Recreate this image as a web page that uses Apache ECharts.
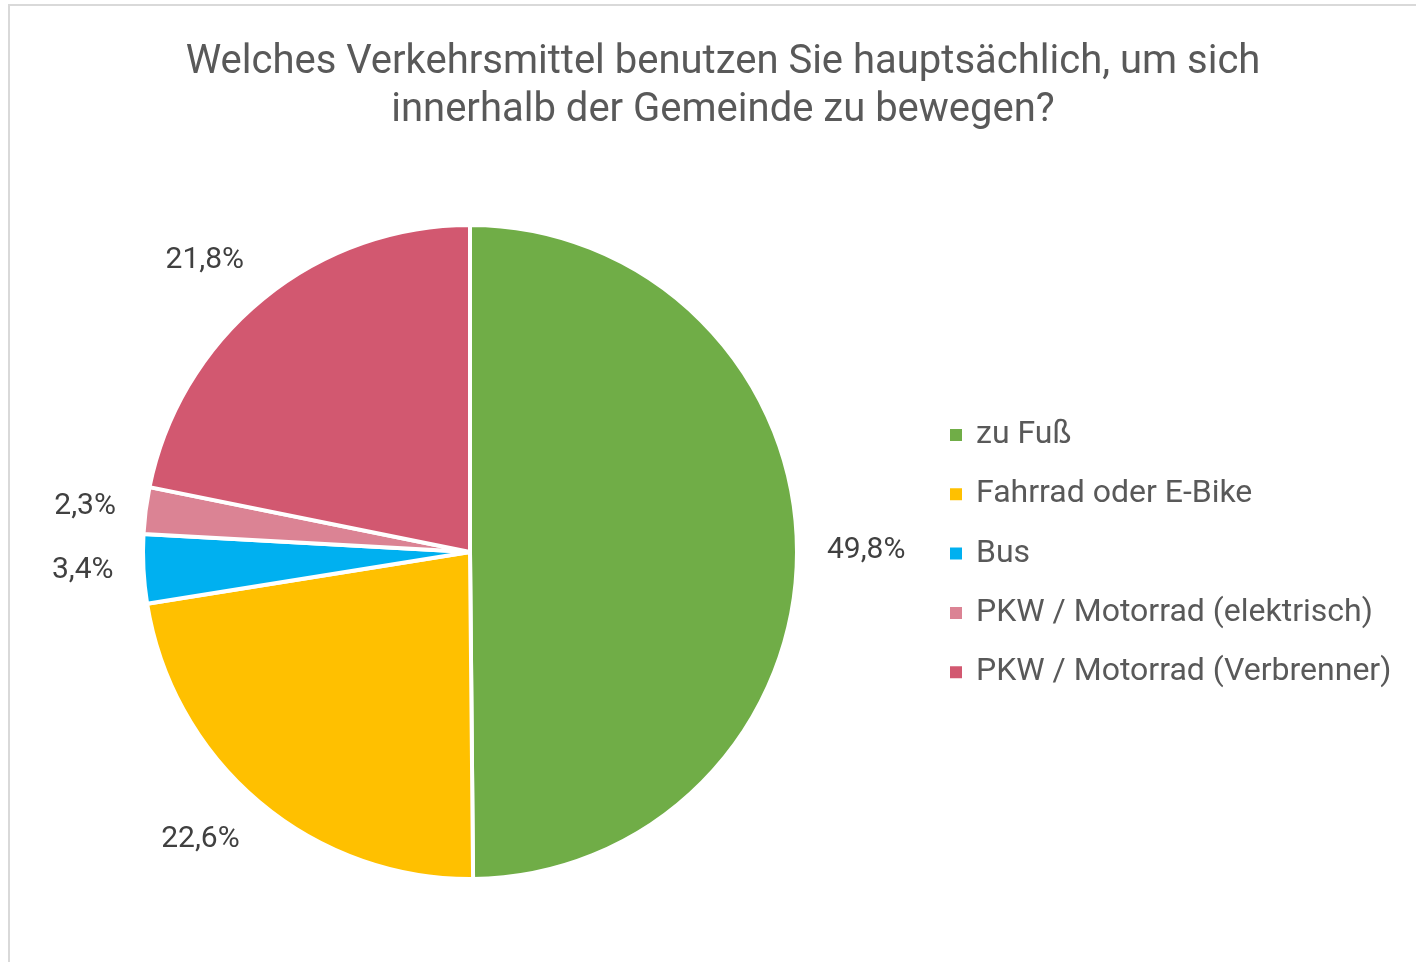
<!DOCTYPE html>
<html>
<head>
<meta charset="utf-8">
<script src="https://cdn.jsdelivr.net/npm/echarts@6/dist/echarts.min.js"></script>
<style>
  html, body { margin: 0; padding: 0; background: #fff; }
  #verkehr { width: 1416px; height: 962px; }
</style>
</head>
<body>
<div id="verkehr"></div>
<script>
const categories = [
  "zu Fuß",
  "Fahrrad oder E-Bike",
  "Bus",
  "PKW / Motorrad (elektrisch)",
  "PKW / Motorrad (Verbrenner)"
];
const shares = [49.8, 22.6, 3.4, 2.3, 21.8];
const colors = ["#70AD47", "#FFC000", "#00B0F0", "#DB8394", "#D25870"];

const pieCenter = [470, 552];
const pieRadius = 327;

// mittlerer Winkel jeder Scheibe (von oben, im Uhrzeigersinn)
const total = shares.reduce((a, b) => a + b, 0);
let acc = 0;
const midAngles = shares.map(v => {
  const mid = (acc + v / 2) / total * Math.PI * 2;
  acc += v;
  return mid;
});

const chart = echarts.init(document.getElementById("verkehr"));
chart.setOption({
  animation: false,
  color: colors,
  title: {
    text: "Welches Verkehrsmittel benutzen Sie hauptsächlich, um sich\ninnerhalb der Gemeinde zu bewegen?",
    left: 718,
    top: 34,
    textAlign: "center",
    textStyle: {
      fontFamily: "Roboto",
      fontSize: 40,
      fontWeight: "normal",
      color: "#595959",
      lineHeight: 48
    }
  },
  legend: {
    orient: "vertical",
    left: 943,
    top: 414,
    itemWidth: 14,
    itemHeight: 14,
    itemGap: 27.3,
    icon: "rect",
    data: categories,
    textStyle: {
      fontFamily: "Roboto",
      fontSize: 32,
      color: "#595959",
      lineHeight: 32,
      padding: [0, 0, 0, 8]
    }
  },
  graphic: [{
    type: "rect",
    shape: { x: 9, y: 5, width: 1430, height: 980 },
    style: { fill: "none", stroke: "#d9d9d9", lineWidth: 2 },
    silent: true
  }],
  series: [
    {
      type: "pie",
      center: pieCenter,
      radius: pieRadius,
      startAngle: 90,
      clockwise: true,
      itemStyle: { borderColor: "#fff", borderWidth: 4 },
      label: {
        show: true,
        position: "outside",
        fontFamily: "Roboto",
        fontSize: 30,
        color: "#404040",
        formatter: p => p.value.toFixed(1).replace(".", ",") + "%"
      },
      labelLine: { show: false },
      labelLayout: function (params) {
        const a = midAngles[params.dataIndex];
        const dx = Math.sin(a), dy = -Math.cos(a);
        const d = pieRadius + 30;
        return {
          x: pieCenter[0] + dx * d,
          y: pieCenter[1] + dy * d,
          align: dx < 0 ? "right" : "left",
          verticalAlign: Math.abs(dy) < 0.3 ? "middle" : (dy > 0 ? "top" : "bottom")
        };
      },
      data: categories.map((c, i) => ({ name: c, value: shares[i] }))
    }
  ]
});
</script>
</body>
</html>
